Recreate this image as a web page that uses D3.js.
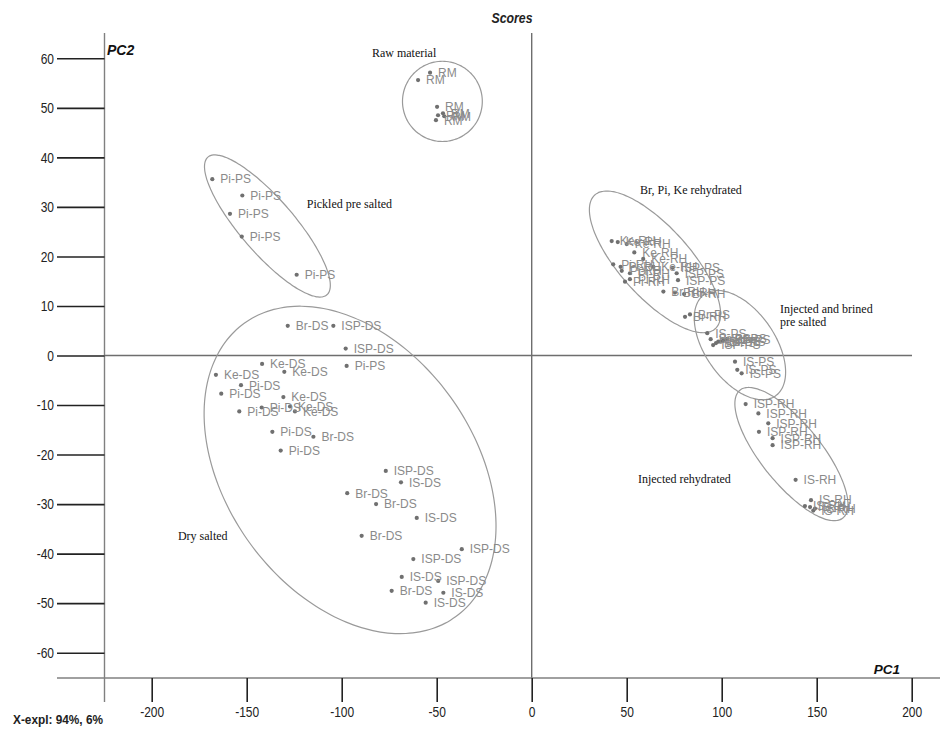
<!DOCTYPE html>
<html><head><meta charset="utf-8">
<script src="https://cdn.jsdelivr.net/npm/d3@7"></script>
<style>
html,body{margin:0;padding:0;background:#fff;}
svg{display:block;}
</style></head>
<body>
<svg id="chart" width="946" height="729"></svg>
<script>
// ---- data ----
const xTicks = [-200, -150, -100, -50, 0, 50, 100, 150, 200];
const yTicks = [60, 50, 40, 30, 20, 10, 0, -10, -20, -30, -40, -50, -60];

const sampleLabels = [
  // raw material
  "RM","RM","RM","RM","RM","RM","RM",
  // pickled pre salted
  "Pi-PS","Pi-PS","Pi-PS","Pi-PS","Pi-PS",
  // dry salted
  "Br-DS","ISP-DS","ISP-DS","Pi-PS","Ke-DS","Ke-DS","Ke-DS","Pi-DS","Pi-DS","Ke-DS",
  "Pi-DS","Pi-DS","Ke-DS","Ke-DS","Pi-DS","Br-DS","Pi-DS",
  "ISP-DS","IS-DS","Br-DS","Br-DS","IS-DS","Br-DS","ISP-DS","ISP-DS","IS-DS","ISP-DS","Br-DS","IS-DS","IS-DS",
  // Br, Pi, Ke rehydrated
  "Ke-RH","Ke-RH","Ke-RH","Ke-RH","Ke-RH","Pi-RH","Pi-RH","Pi-RH","Pi-RH","Pi-RH","Pi-RH",
  "Ke-RH","ISP-PS","ISP-PS","ISP-PS","Br-RH","Br-RH","Br-RH","Br-RH","Br-PS",
  // injected and brined pre salted
  "IS-PS","Br-PS","ISP-PS","Br-PS","ISP-PS","Br-PS","ISP-PS","Br-PS","IS-PS","IS-PS","IS-PS",
  // injected rehydrated
  "ISP-RH","ISP-RH","ISP-RH","ISP-RH","ISP-RH","ISP-RH","IS-RH","IS-RH","IS-RH","IS-RH","IS-RH","IS-RH"
];
const pc1Scores = [
  -59.8,-53.5,-49.8,-49.3,-46.7,-50.4,-46.0,
  -168.1,-152.3,-158.8,-152.6,-123.7,
  -128.4,-104.4,-97.9,-97.4,-141.9,-130.2,-166.2,-153.0,-163.4,-130.7,
  -153.9,-142.1,-127.2,-124.6,-136.5,-114.9,-132.1,
  -76.8,-68.8,-97.1,-81.9,-60.5,-89.5,-36.8,-62.3,-68.4,-49.2,-73.7,-46.5,-55.8,
  42.1,45.3,50.0,54.0,58.7,42.9,46.8,47.4,51.7,49.1,51.7,
  64.0,74.2,76.3,77.0,69.3,75.4,80.2,80.7,83.3,
  92.4,94.2,95.5,97.0,98.2,99.5,100.8,102.6,107.0,108.2,110.5,
  112.6,119.3,124.5,119.6,126.8,126.8,138.9,147.0,143.8,146.5,149.1,148.2
];
const pc2Scores = [
  55.6,57.1,50.2,48.5,48.9,47.5,48.3,
  35.6,32.3,28.6,24.0,16.3,
  6.0,6.0,1.4,-2.1,-1.7,-3.3,-3.9,-6.0,-7.7,-8.4,
  -11.3,-10.5,-10.3,-11.3,-15.4,-16.4,-19.2,
  -23.3,-25.6,-27.8,-30.0,-32.8,-36.4,-39.1,-41.1,-44.7,-45.5,-47.5,-47.9,-49.9,
  23.1,22.9,22.5,20.8,19.5,18.4,17.9,17.1,16.6,14.9,15.4,
  17.9,17.7,16.6,15.2,12.9,12.7,12.4,7.8,8.3,
  4.5,3.3,2.1,2.5,2.8,2.8,3.1,3.3,-1.25,-2.9,-3.6,
  -9.8,-11.7,-13.7,-15.4,-16.7,-18.1,-25.1,-29.2,-30.4,-30.6,-30.9,-31.3
];

// group ellipses, in score units: centre and two semi-axis vectors
const ellipseCX = [-47.0, -139.1, -95.6, 64.9, 109.6, 136.7];
const ellipseCY = [51.3, 26.15, -23.1, 18.9, 2.1, -19.9];
const ellipseU  = [[21.0, 0], [31.3, -13.9], [55.7, -29.6], [31.7, -13.5], [18.7, -10.26], [27.1, -12.9]];
const ellipseV  = [[0, -8.1], [-10.8, -3.56], [-52.9, -14.7], [-13.7, -4.73], [-15.1, -4.05], [-12.3, -3.8]];

// group captions (anchor in score units)
const groupCaptions = [["Raw material"], ["Pickled pre salted"], ["Dry salted"], ["Br, Pi, Ke rehydrated"], ["Injected and brined", "pre salted"], ["Injected rehydrated"]];
const captionX = [-84.1, -118.4, -186.2, 57.0, 130.7, 55.9];
const captionY = [60.3, 29.8, -37.2, 32.6, 8.6, -25.7];

// ---- drawing ----
const svg = d3.select("#chart");
const x = d3.scaleLinear().domain([-200, 200]).range([151.7, 911.7]);
const y = d3.scaleLinear().domain([60, -60]).range([58.3, 652.7]);

const axisY = 678;   // bottom axis line
const axisX = 104.5; // left axis line
const axisGray = "#808080";
const sans = "'Liberation Sans',Arial,sans-serif";

function condense(sel, factor) {
  sel.each(function() {
    const w = this.getComputedTextLength();
    d3.select(this).attr("textLength", w * factor).attr("lengthAdjust", "spacingAndGlyphs");
  });
}

// zero lines
svg.append("line").attr("x1", x(0)).attr("x2", x(0)).attr("y1", 33).attr("y2", axisY)
  .attr("stroke", "#6e6e6e").attr("stroke-width", 1.4);
svg.append("line").attr("x1", axisX).attr("x2", 912).attr("y1", y(0)).attr("y2", y(0))
  .attr("stroke", "#6e6e6e").attr("stroke-width", 1.4);

// axis base lines
svg.append("line").attr("x1", 57).attr("x2", 940).attr("y1", axisY).attr("y2", axisY)
  .attr("stroke", axisGray).attr("stroke-width", 1.4);
svg.append("line").attr("x1", axisX).attr("x2", axisX).attr("y1", 33).attr("y2", 702)
  .attr("stroke", axisGray).attr("stroke-width", 1.4);

// x axis
const gx = svg.append("g").attr("transform", `translate(0,${axisY})`)
  .call(d3.axisBottom(x).tickValues(xTicks).tickSize(24).tickPadding(4).tickFormat(d => String(d)));
gx.select(".domain").remove();
gx.selectAll(".tick line").attr("stroke", "#222").attr("stroke-width", 1.6);
gx.selectAll(".tick text").attr("font-family", sans).attr("font-size", 15).attr("fill", "#222")
  .call(condense, 0.8);

// y axis
const gy = svg.append("g").attr("transform", `translate(${axisX},0)`)
  .call(d3.axisLeft(y).tickValues(yTicks).tickSize(47.5).tickPadding(3).tickFormat(d => String(d)));
gy.select(".domain").remove();
gy.selectAll(".tick line").attr("stroke", "#222").attr("stroke-width", 1.6);
gy.selectAll(".tick text").attr("font-family", sans).attr("font-size", 15).attr("fill", "#222")
  .call(condense, 0.8);

// titles
svg.append("text").attr("x", 512).attr("y", 23).attr("text-anchor", "middle")
  .attr("font-family", sans).attr("font-weight", "bold").attr("font-style", "italic")
  .attr("font-size", 14).attr("fill", "#222").text("Scores").call(condense, 0.88);
svg.append("text").attr("x", 107).attr("y", 55)
  .attr("font-family", sans).attr("font-weight", "bold").attr("font-style", "italic")
  .attr("font-size", 14).attr("fill", "#111").text("PC2");
svg.append("text").attr("x", 887).attr("y", 674).attr("text-anchor", "middle")
  .attr("font-family", sans).attr("font-weight", "bold").attr("font-style", "italic")
  .attr("font-size", 13.5).attr("fill", "#111").text("PC1");
svg.append("text").attr("x", 13).attr("y", 724)
  .attr("font-family", sans).attr("font-weight", "bold")
  .attr("font-size", 13.5).attr("fill", "#222")
  .attr("textLength", 90).attr("lengthAdjust", "spacingAndGlyphs").text("X-expl: 94%, 6%");

// ellipses
const ell = d3.range(ellipseCX.length).map(i => {
  return d3.range(0, 360, 3).map(deg => {
    const t = deg * Math.PI / 180;
    const dx = Math.cos(t) * ellipseU[i][0] + Math.sin(t) * ellipseV[i][0];
    const dy = Math.cos(t) * ellipseU[i][1] + Math.sin(t) * ellipseV[i][1];
    return [x(ellipseCX[i] + dx), y(ellipseCY[i] + dy)];
  });
});
svg.append("g").selectAll("path").data(ell).join("path")
  .attr("d", d => d3.line().curve(d3.curveCardinalClosed)(d))
  .attr("fill", "none").attr("stroke", "#9a9a9a").attr("stroke-width", 1.2);

// points
const pts = sampleLabels.map((l, i) => ({label: l, px: pc1Scores[i], py: pc2Scores[i]}));
svg.append("g").selectAll("circle").data(pts).join("circle")
  .attr("cx", d => x(d.px)).attr("cy", d => y(d.py)).attr("r", 2.1).attr("fill", "#707070");
svg.append("g").selectAll("text").data(pts).join("text")
  .attr("x", d => x(d.px) + 8).attr("y", d => y(d.py) + 4.3)
  .attr("font-family", sans).attr("font-size", 12)
  .attr("fill", "#8a8a8a").text(d => d.label);

// group captions
const cap = svg.append("g");
groupCaptions.forEach((lines, i) => {
  lines.forEach((s, j) => {
    cap.append("text").attr("x", x(captionX[i])).attr("y", y(captionY[i]) + j * 13)
      .attr("font-family", "'Liberation Serif','Times New Roman',serif").attr("font-size", 12)
      .attr("fill", "#111").text(s);
  });
});
</script>
</body></html>
